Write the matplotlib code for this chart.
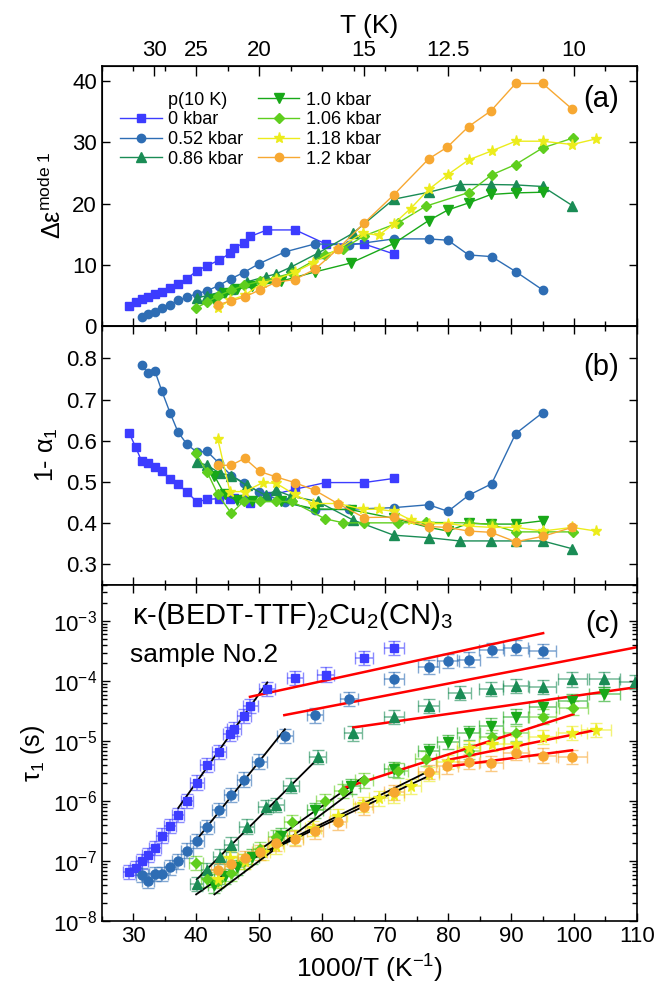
import numpy as np
import matplotlib
matplotlib.use("Agg")
import matplotlib.pyplot as plt
from matplotlib.colors import to_rgba
from matplotlib.lines import Line2D
from matplotlib.ticker import MultipleLocator, FixedLocator, NullFormatter, LogLocator

plt.rcParams['font.family'] = ['Liberation Sans', 'DejaVu Sans']
plt.rcParams['mathtext.fontset'] = 'custom'
plt.rcParams['mathtext.rm'] = 'Liberation Sans'
plt.rcParams['mathtext.it'] = 'Liberation Sans:italic'
plt.rcParams['font.size'] = 16

# ---- data: x = 1000/T (1/K) ----
labels = ["0 kbar", "0.52 kbar", "0.86 kbar", "1.0 kbar", "1.06 kbar", "1.18 kbar", "1.2 kbar"]
colors = ["#3c3cff", "#2e6db4", "#1a8c55", "#18a818", "#5fce1e", "#ecec1c", "#f7a832"]
markers = ["s", "o", "^", "v", "D", "*", "o"]
msizes = [5.5, 6, 6.5, 6.5, 5, 8, 6]

x_0 = [29.38, 30.40, 31.35, 32.30, 33.46, 34.53, 35.85, 37.12, 38.54, 40.13, 41.72, 43.58,
       45.42, 45.96, 47.55, 48.6, 51.25, 55.75, 60.57, 66.65, 71.37]
x_052 = [31.35, 32.35, 33.46, 34.57, 35.85, 37.12, 38.54, 40.13, 41.72, 43.58, 45.58, 47.55,
         50.03, 54.1, 58.87, 64.3, 71.37, 76.92, 79.99, 83.27, 86.92, 90.73, 95.02]
x_086 = [40.08, 41.77, 43.73, 45.58, 48.02, 51.09, 52.67, 55.11, 59.3, 64.9, 71.37, 76.92,
         81.84, 86.81, 90.73, 95.02, 99.72]
x_10 = [42.88, 44.53, 46.44, 48.87, 53.47, 58.87, 64.58, 71.37, 76.92, 79.99, 83.27, 86.81,
        90.73, 95.02]
x_106 = [39.97, 41.77, 43.42, 45.58, 47.64, 50.13, 52.67, 55.2, 60.45, 63.37, 66.65, 72.05,
         76.45, 83.27, 86.92, 90.73, 95.02, 99.89]
x_118 = [43.42, 45.37, 47.71, 50.6, 52.73, 55.65, 58.55, 62.57, 66.44, 68.98, 71.37, 74.06,
         76.92, 79.99, 83.27, 86.92, 90.73, 95.02, 99.72, 103.49]
x_12 = [43.52, 45.53, 47.71, 50.09, 52.63, 55.65, 58.87, 62.47, 66.65, 71.37, 76.92, 79.87,
        83.27, 86.81, 90.73, 95.02, 99.72]

# panel (a): dielectric strength of mode 1
de_0 = [3.21, 3.87, 4.36, 4.64, 5.13, 5.51, 6.23, 6.89, 7.64, 9.02, 9.77, 10.7, 11.85, 12.67,
        13.54, 14.6, 15.67, 15.67, 13.38, 13.38, 11.74]
de_052 = [1.47, 1.91, 2.29, 2.84, 3.44, 4.15, 4.64, 5.24, 5.68, 6.56, 7.70, 8.69, 10.16, 12.07,
          13.38, 13.2, 14.2, 14.2, 13.98, 11.57, 11.3, 8.85, 5.84]
de_086 = [4.52, 4.92, 5.46, 5.95, 7.15, 8.03, 8.46, 9.61, 11.85, 15.13, 20.7, 21.85, 23.11,
          23.11, 23.05, 22.79, 19.67]
de_10 = [4.36, 5.41, 5.95, 6.44, 7.26, 8.79, 10.26, 13.44, 17.21, 18.95, 20.1, 21.48, 21.74, 21.85]
de_106 = [2.84, 3.87, 4.8, 5.79, 6.6, 7.26, 7.87, 8.62, 11.64, 12.62, 14.69, 16.82, 19.56, 21.8,
          24.69, 26.39, 29.11, 30.75]
de_118 = [2.84, 4.15, 4.97, 7.05, 7.59, 8.74, 10.26, 12.56, 15.18, 14.8, 16.66, 19.18, 22.3,
          24.75, 27.15, 28.62, 30.21, 30.21, 29.67, 30.59]
de_12 = [3.44, 4.04, 4.69, 5.84, 7.1, 7.54, 9.23, 12.51, 16.77, 21.41, 27.31, 29.23, 32.62,
         35.18, 39.67, 39.67, 35.46]

# panel (b): 1 - alpha_1
al_0 = [0.618, 0.584, 0.550, 0.545, 0.535, 0.526, 0.506, 0.494, 0.475, 0.451, 0.457, 0.459,
        0.459, 0.46, 0.459, 0.448, 0.465, 0.482, 0.498, 0.498, 0.508]
al_052 = [0.783, 0.765, 0.769, 0.720, 0.668, 0.621, 0.591, 0.572, 0.574, 0.546, 0.515, 0.498,
          0.475, 0.450, 0.432, 0.433, 0.437, 0.444, 0.428, 0.467, 0.495, 0.617, 0.668]
al_086 = [0.548, 0.540, 0.521, 0.515, 0.491, 0.467, 0.479, 0.465, 0.452, 0.407, 0.370, 0.364,
          0.356, 0.356, 0.356, 0.356, 0.337]
al_10 = [0.515, 0.469, 0.455, 0.452, 0.452, 0.434, 0.432, 0.411, 0.389, 0.380, 0.399, 0.397,
         0.397, 0.405]
al_106 = [0.569, 0.523, 0.470, 0.423, 0.454, 0.452, 0.452, 0.452, 0.41, 0.40, 0.40, 0.400,
          0.401, 0.400, 0.396, 0.378, 0.378, 0.378]
al_118 = [0.605, 0.476, 0.476, 0.498, 0.496, 0.469, 0.447, 0.447, 0.433, 0.433, 0.428, 0.407,
          0.398, 0.398, 0.392, 0.389, 0.389, 0.380, 0.389, 0.380]
al_12 = [0.540, 0.540, 0.557, 0.525, 0.512, 0.498, 0.479, 0.447, 0.413, 0.414, 0.391, 0.389,
         0.380, 0.377, 0.354, 0.367, 0.389]

# panel (c): relaxation time tau_1, log10 values
xt_086 = x_086 + [104.8, 109.7]
xt_10 = x_10 + [99.72, 104.8]
lt_0 = [-7.18, -7.11, -7.0, -6.89, -6.78, -6.57, -6.41, -6.23, -5.99, -5.69, -5.40, -5.18,
        -4.88, -4.80, -4.58, -4.41, -4.13, -3.95, -3.89, -3.61, -3.45]
lt_052 = [-7.23, -7.32, -7.21, -7.21, -7.10, -7.0, -6.82, -6.66, -6.43, -6.14, -5.89, -5.64,
          -5.34, -4.91, -4.57, -4.30, -3.97, -3.76, -3.66, -3.64, -3.48, -3.44, -3.50]
lt_086 = [-7.38, -7.15, -6.92, -6.72, -6.42, -6.09, -6.06, -5.74, -5.26, -4.87, -4.60, -4.41,
          -4.20, -4.13, -4.08, -4.10, -3.97, -3.97, -4.01]
lt_10 = [-7.40, -7.25, -7.10, -6.92, -6.57, -6.15, -5.75, -5.47, -5.16, -5.01, -4.86, -4.74,
         -4.59, -4.43, -4.33, -4.21]
lt_106 = [-7.03, -7.30, -7.33, -7.20, -7.00, -6.80, -6.60, -6.35, -6.00, -5.83, -5.65, -5.49,
          -5.29, -5.17, -4.93, -4.87, -4.59, -4.45]
lt_118 = [-7.30, -6.95, -7.00, -6.85, -6.75, -6.60, -6.45, -6.25, -6.05, -5.95, -5.90, -5.75,
          -5.55, -5.35, -5.12, -5.05, -5.04, -4.93, -4.86, -4.81]
lt_12 = [-7.15, -7.05, -6.95, -6.85, -6.70, -6.62, -6.50, -6.35, -6.10, -5.85, -5.51, -5.42,
         -5.34, -5.37, -5.20, -5.24, -5.26]

# Arrhenius fits, (x, log10 tau) end points
black_fits = [((37.16, -6.11), (51.3, -4.02)),
              ((40.0, -6.65), (54.1, -4.80)),
              ((40.1, -7.30), (59.6, -5.26)),
              ((40.0, -7.55), (66.65, -5.59)),
              ((42.9, -7.55), (64.7, -5.84)),
              ((50.0, -6.89), (76.9, -5.50)),
              ((49.0, -6.95), (76.9, -5.58))]
red_fits = [((48.55, -4.26), (95.1, -3.20)),
            ((54.0, -4.565), (110.2, -3.43)),
            ((64.95, -4.77), (110.2, -4.095)),
            ((63.4, -5.78), (99.9, -4.55)),
            ((80.0, -5.31), (103.6, -4.81)),
            ((80.0, -5.42), (99.7, -5.15))]

t_ticks = [30, 25, 20, 15, 12.5, 10]

xs = [x_0, x_052, x_086, x_10, x_106, x_118, x_12]
de = [de_0, de_052, de_086, de_10, de_106, de_118, de_12]
al = [al_0, al_052, al_086, al_10, al_106, al_118, al_12]
xt = [x_0, x_052, xt_086, xt_10, x_106, x_118, x_12]
lt = [lt_0, lt_052, lt_086, lt_10, lt_106, lt_118, lt_12]


def style_axis(ax):
    ax.tick_params(which='both', direction='in', top=True, right=True, labelsize=16)
    ax.tick_params(which='major', length=6, width=1)
    ax.tick_params(which='minor', length=3.5, width=1)
    ax.xaxis.set_major_locator(MultipleLocator(10))
    ax.xaxis.set_minor_locator(MultipleLocator(5))
    for sp in ax.spines.values():
        sp.set_linewidth(1.2)


fig, (ax_a, ax_b, ax_c) = plt.subplots(3, 1, sharex=True, figsize=(6.56, 9.94), dpi=100,
                                       gridspec_kw={'height_ratios': [260, 259, 337]})
fig.subplots_adjust(left=0.155, right=0.971, top=0.934, bottom=0.073, hspace=0)

for i in range(len(labels)):
    ax_a.plot(xs[i], de[i], '-', marker=markers[i], color=colors[i], ms=msizes[i], lw=1,
              label=labels[i])
    ax_b.plot(xs[i], al[i], '-', marker=markers[i], color=colors[i], ms=msizes[i], lw=1)

for i in range(len(labels)):
    x = np.array(xt[i])
    tau = 10.0 ** np.array(lt[i])
    xerr = 0.8 + 0.00015 * x ** 2
    yerr = [tau * (1 - 10 ** -0.12), tau * (10 ** 0.12 - 1)]
    ax_c.errorbar(x, tau, xerr=xerr, yerr=yerr, fmt=markers[i], color=colors[i],
                  ecolor=to_rgba(colors[i], 0.6), ms=msizes[i] + 0.5, elinewidth=1.1,
                  capsize=4.5, mec=colors[i], mfc=colors[i])

for p0, p1 in black_fits:
    ax_c.plot([p0[0], p1[0]], [10 ** p0[1], 10 ** p1[1]], color='black', lw=1.3)
for p0, p1 in red_fits:
    ax_c.plot([p0[0], p1[0]], [10 ** p0[1], 10 ** p1[1]], color='red', lw=1.8)

# panel (a)
ax_a.set_ylim(0, 42.6)
ax_a.yaxis.set_major_locator(MultipleLocator(10))
style_axis(ax_a)
ax_a.tick_params(top=False)
ax_a.set_ylabel("Δε$^{\\mathrm{mode\\ 1}}$", fontsize=18)
ax_a.text(0.967, 0.873, "(a)", transform=ax_a.transAxes, ha='right', va='center', fontsize=21)

dummy = Line2D([], [], linestyle='none', marker=None)
h, l = ax_a.get_legend_handles_labels()
ax_a.legend([dummy] + h, ["p(10 K)"] + l, ncol=2, loc='upper left',
            bbox_to_anchor=(0.035, 0.9), frameon=False, fontsize=13, handlelength=2.3,
            handletextpad=0.35, columnspacing=0.8, labelspacing=0.15, borderpad=0,
            borderaxespad=0)

top = ax_a.twiny()
top.set_xlim(25, 110)
top.xaxis.set_major_locator(FixedLocator([1000.0 / t for t in t_ticks]))
top.set_xticklabels([str(t) for t in t_ticks])
top.xaxis.set_minor_locator(MultipleLocator(5))
top.tick_params(which='both', direction='in', labelsize=16)
top.tick_params(which='major', length=7, width=1)
top.tick_params(which='minor', length=3.5, width=1)
top.set_xlabel("T (K)", fontsize=19, labelpad=5)

# panel (b)
ax_b.set_ylim(0.25, 0.88)
ax_b.yaxis.set_major_locator(MultipleLocator(0.1))
style_axis(ax_b)
ax_b.set_ylabel("1- α$_1$", fontsize=18)
ax_b.text(0.967, 0.84, "(b)", transform=ax_b.transAxes, ha='right', va='center', fontsize=21)

# panel (c)
ax_c.set_yscale('log')
ax_c.set_ylim(1e-8, 10 ** -2.39)
ax_c.set_xlim(25, 110)
style_axis(ax_c)
ax_c.yaxis.set_major_locator(LogLocator(base=10, numticks=10))
ax_c.yaxis.set_minor_locator(LogLocator(base=10, subs=np.arange(2, 10), numticks=20))
ax_c.yaxis.set_minor_formatter(NullFormatter())
ax_c.set_ylabel("τ$_1$ (s)", fontsize=18)
ax_c.set_xlabel("1000/T (K$^{-1}$)", fontsize=19)
ax_c.text(0.967, 0.883, "(c)", transform=ax_c.transAxes, ha='right', va='center', fontsize=21)
ax_c.text(0.056, 0.908, "κ-(BEDT-TTF)$_2$Cu$_2$(CN)$_3$", transform=ax_c.transAxes,
          ha='left', va='center', fontsize=21)
ax_c.text(0.053, 0.79, "sample No.2", transform=ax_c.transAxes, ha='left', va='center',
          fontsize=19)

fig.savefig("out.png", dpi=100)
